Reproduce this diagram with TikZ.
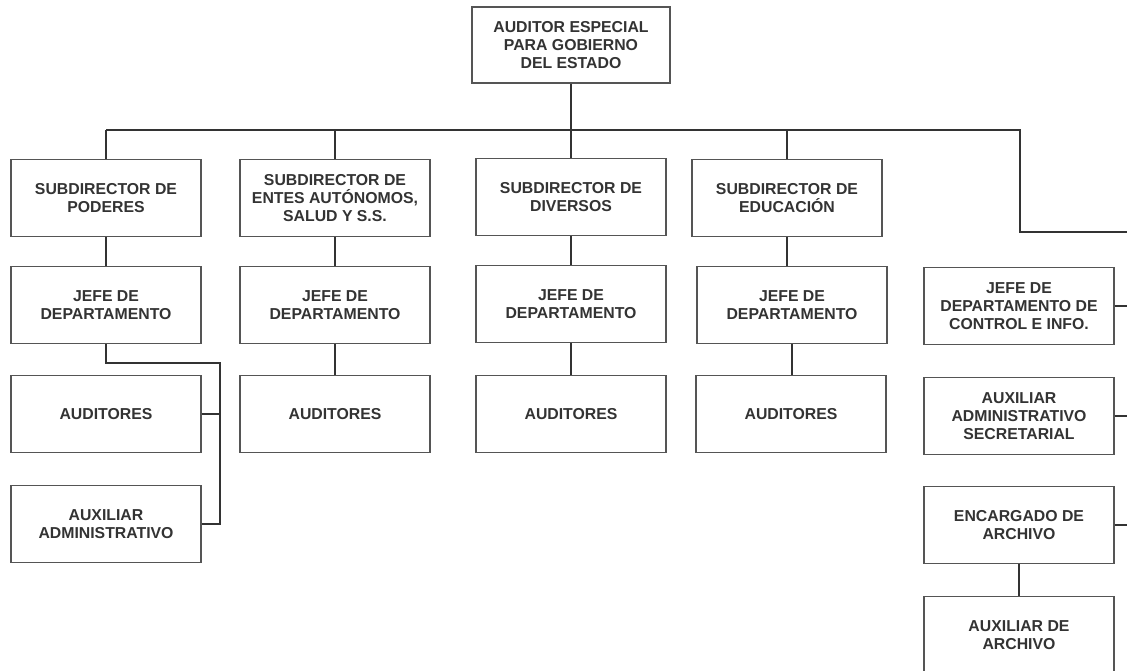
\documentclass[tikz,border=0pt]{standalone}
\usepackage{fontspec}
\setmainfont{Liberation Sans}
\usepackage{tikz}
\usetikzlibrary{positioning}
\usepackage{xcolor}
\definecolor{linegray}{HTML}{333333}
\definecolor{boxgray}{HTML}{555555}
\definecolor{textgray}{HTML}{333333}

\begin{document}
\begin{tikzpicture}[x=0.02cm, y=-0.02cm,
    puesto/.style={draw=boxgray, line width=0.6pt, fill=white, minimum width=3.8cm,
      minimum height=1.54cm, align=center, text=textgray,
      font=\fontsize{9}{10.2}\selectfont\bfseries},
    liga/.style={draw=linegray, line width=1.1pt}]
    \useasboundingbox (0,0) rectangle (1127,671);

    \node[puesto, minimum width=3.96cm, minimum height=1.52cm] at (571,45) (aud) {AUDITOR ESPECIAL\\PARA GOBIERNO\\DEL ESTADO};

    \node[puesto] at (106,198) (sP) {SUBDIRECTOR DE\\PODERES};
    \node[puesto] at (106,305) (jP) {JEFE DE\\DEPARTAMENTO};
    \node[puesto] at (106,414) (aP) {AUDITORES};
    \node[puesto] at (106,524) (xP) {AUXILIAR\\ADMINISTRATIVO};

    \node[puesto] at (335,198) (sE) {SUBDIRECTOR DE\\ENTES AUTÓNOMOS,\\SALUD Y S.S.};
    \node[puesto] at (335,305) (jE) {JEFE DE\\DEPARTAMENTO};
    \node[puesto] at (335,414) (aE) {AUDITORES};

    \node[puesto] at (571,197) (sD) {SUBDIRECTOR DE\\DIVERSOS};
    \node[puesto] at (571,304) (jD) {JEFE DE\\DEPARTAMENTO};
    \node[puesto] at (571,414) (aD) {AUDITORES};

    \node[puesto] at (787,198) (sEd) {SUBDIRECTOR DE\\EDUCACIÓN};
    \node[puesto] at (792,305) (jEd) {JEFE DE\\DEPARTAMENTO};
    \node[puesto] at (791,414) (aEd) {AUDITORES};

    \node[puesto] at (1019,306) (jC) {JEFE DE\\DEPARTAMENTO DE\\CONTROL E INFO.};
    \node[puesto] at (1019,416) (sec) {AUXILIAR\\ADMINISTRATIVO\\SECRETARIAL};
    \node[puesto] at (1019,525) (enc) {ENCARGADO DE\\ARCHIVO};
    \node[puesto] at (1019,635) (arc) {AUXILIAR DE\\ARCHIVO};

    \coordinate (busL) at (106,130);
    \coordinate (busR) at (1020,130);
    \coordinate (rgt) at (1130,232);
    \coordinate (codo) at (220,363);

    % linea principal
    \draw[liga] (aud.south) -- (aud.south |- busL);
    \draw[liga] (busL) -- (busR) |- (rgt);
    \foreach \s in {sP,sE,sD,sEd}
      \draw[liga] (\s.north) -- (\s.north |- busL);

    % columnas
    \draw[liga] (sP) -- (jP);
    \draw[liga] (sE) -- (jE) -- (aE);
    \draw[liga] (sD) -- (jD) -- (aD);
    \draw[liga] (sEd.south) -- (sEd.south |- jEd.north);
    \draw[liga] (jEd.south) -- (jEd.south |- aEd.north);
    \draw[liga] (jP.south) |- (codo) -- (codo |- xP.east) -- (xP.east);
    \draw[liga] (aP.east) -- (aP.east -| codo);

    % lado derecho
    \foreach \r in {jC,sec,enc}
      \draw[liga] (\r.east) -- (\r.east -| rgt);
    \draw[liga] (enc) -- (arc);
  \end{tikzpicture}
\end{document}
